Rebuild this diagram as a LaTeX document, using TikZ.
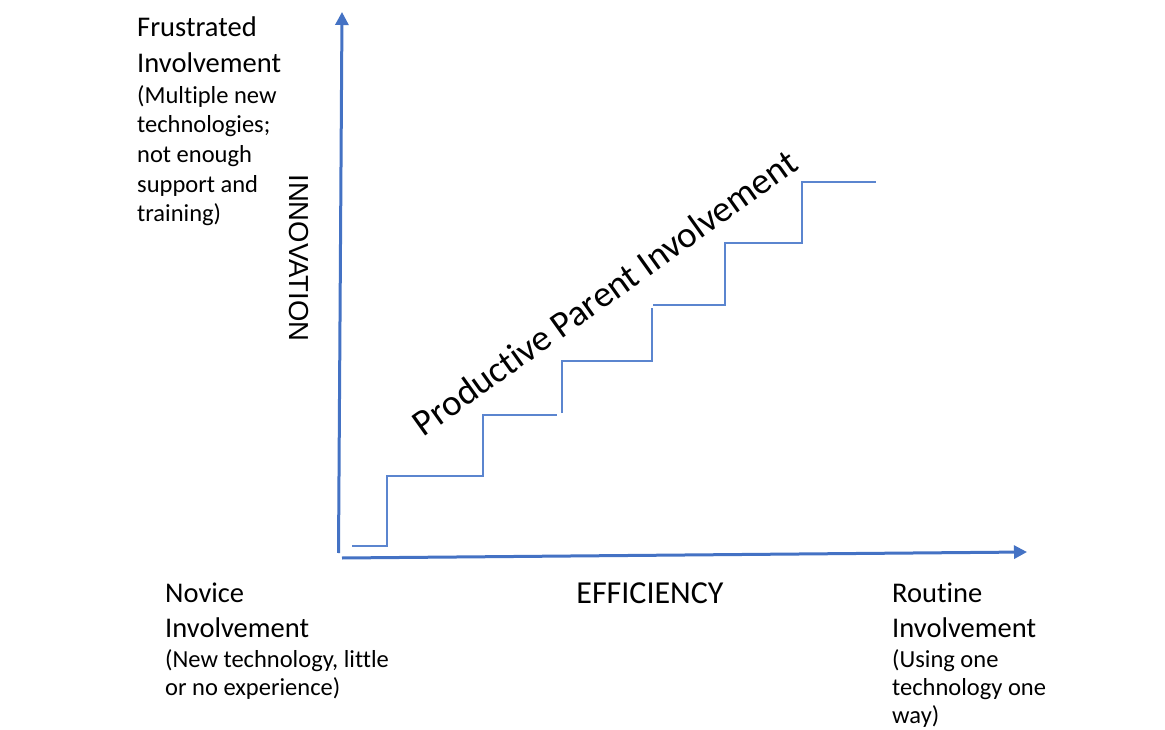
\documentclass[tikz,border=0pt]{standalone}
\usepackage{fontspec}
\setmainfont{Carlito}[Ligatures=NoCommon]
\newfontfamily\arialf{Liberation Sans}
\usetikzlibrary{arrows.meta}
\definecolor{axisblue}{HTML}{4472C4}
\definecolor{stairblue}{HTML}{5B85CF}
\tikzset{
  axisline/.style={draw=axisblue, line width=3pt, -{Triangle[length=13pt,width=13pt]}},
  stairline/.style={draw=stairblue, line width=1.6pt},
  lbl/.style={inner sep=0pt, anchor=base west, text=black},
  ttl/.style={lbl, font=\fontsize{28.5}{34}\selectfont},
  dsc/.style={lbl, font=\fontsize{24.5}{29}\selectfont},
}
\begin{document}
\begin{tikzpicture}[x=1pt, y=-1pt]
\useasboundingbox (0,0) rectangle (1165,730);
\fill[white] (0,0) rectangle (1165,730);

% axes
\coordinate (yo) at (338.5,553);
\coordinate (ytip) at (342,12);
\coordinate (xo) at (342,558);
\coordinate (xtip) at (1027,552);
\draw[axisline] (yo) -- (ytip);
\draw[axisline] (xo) -- (xtip);

% staircase
\coordinate (s0) at (352,546);
\coordinate (s1) at (387,546);
\coordinate (s2) at (387,476);
\coordinate (s3) at (483,476);
\coordinate (s4) at (483,415);
\coordinate (s5) at (557,415);
\coordinate (t0) at (562,413);
\coordinate (t1) at (562,361);
\coordinate (t2) at (652,361);
\coordinate (t3) at (652,308);
\coordinate (u0) at (653,305);
\coordinate (u1) at (725,305);
\coordinate (u2) at (725,243);
\coordinate (u3) at (802,243);
\coordinate (u4) at (802,182);
\coordinate (u5) at (876,182);
\draw[stairline] (s0) -- (s1) -- (s2) -- (s3) -- (s4) -- (s5);
\draw[stairline] (t0) -- (t1) -- (t2) -- (t3);
\draw[stairline] (u0) -- (u1) -- (u2) -- (u3) -- (u4) -- (u5);

% diagonal label
\node[inner sep=0pt, anchor=base, rotate=35.5, font=\fontsize{37}{44}\selectfont] (ppi) at (612,303) {Productive Parent Involvement};

% axis labels
\node[inner sep=0pt, anchor=base, rotate=-90, font=\arialf\fontsize{27.5}{33}\selectfont] (innov) at (289,258) {INNOVATION};
\node[inner sep=0pt, anchor=base, font=\fontsize{32}{38}\selectfont] (eff) at (650,603) {EFFICIENCY};

% top-left block
\node[ttl] (f1) at (137,37) {Frustrated};
\node[ttl] (f2) at (137,73) {Involvement};
\node[dsc] (f3) at (137,104) {(Multiple new};
\node[dsc] (f4) at (137,133) {technologies;};
\node[dsc] (f5) at (137,163) {not enough};
\node[dsc] (f6) at (137,193) {support and};
\node[dsc] (f7) at (137,222) {training)};

% bottom-left block
\node[ttl] (n1) at (165,602) {Novice};
\node[ttl] (n2) at (165,637) {Involvement};
\node[dsc] (n3) at (165,667) {(New technology, little};
\node[dsc] (n4) at (165,695) {or no experience)};

% bottom-right block
\node[ttl] (r1) at (892,602) {Routine};
\node[ttl] (r2) at (892,637) {Involvement};
\node[dsc] (r3) at (892,667) {(Using one};
\node[dsc] (r4) at (892,695) {technology one};
\node[dsc] (r5) at (892,723) {way)};
\end{tikzpicture}
\end{document}
